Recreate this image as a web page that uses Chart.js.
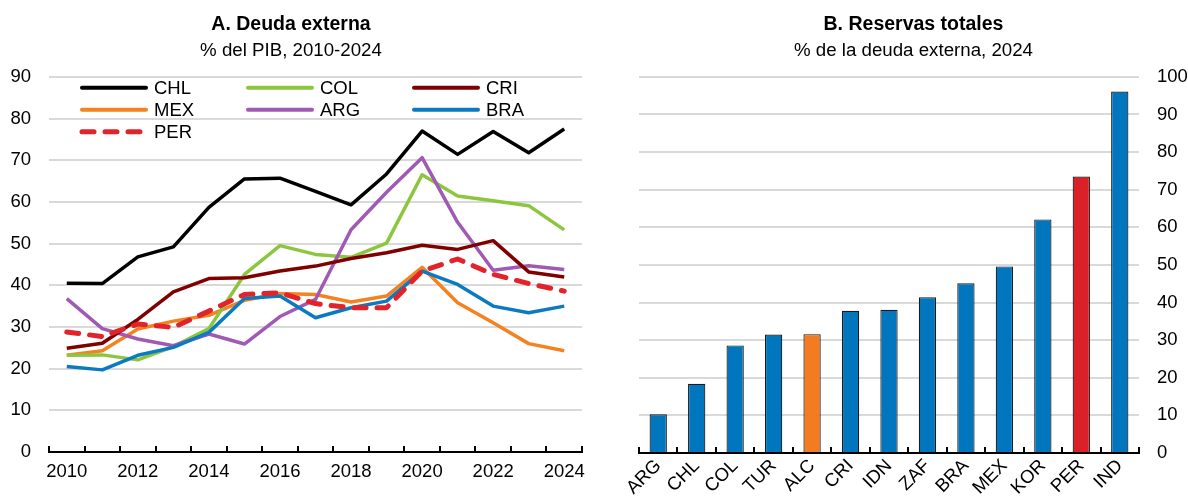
<!DOCTYPE html>
<html>
<head>
<meta charset="utf-8">
<script src="https://cdn.jsdelivr.net/npm/chart.js@4"></script>
<style>
  html, body { margin: 0; padding: 0; background: #fff; }
  body { width: 1188px; height: 498px; position: relative; overflow: hidden; }
  .box { position: absolute; top: 0; height: 498px; }
  #boxA { left: 0; width: 628px; }
  #boxB { left: 598px; width: 590px; }
</style>
</head>
<body>
<div class="box" id="boxA"><canvas id="chartA"></canvas></div>
<div class="box" id="boxB"><canvas id="chartB"></canvas></div>
<script>
// 패널 A: 대외부채 (% del PIB)
const years = ["2010","2011","2012","2013","2014","2015","2016","2017","2018","2019","2020","2021","2022","2023","2024"];
const chl = [40.5, 40.4, 46.8, 49.2, 58.7, 65.5, 65.7, 62.5, 59.3, 66.7, 77.0, 71.4, 76.9, 71.8, 77.5];
const col = [23.2, 23.3, 22.1, 25.3, 29.6, 42.6, 49.5, 47.4, 46.7, 50.1, 66.5, 61.4, 60.3, 59.1, 53.3];
const cri = [24.9, 26.1, 31.8, 38.4, 41.6, 41.8, 43.4, 44.6, 46.4, 47.8, 49.6, 48.6, 50.7, 43.2, 42.0];
const mex = [23.2, 24.3, 29.5, 31.4, 32.8, 36.4, 38.0, 37.8, 36.0, 37.4, 44.3, 35.8, 31.0, 26.0, 24.3];
const arg = [36.8, 29.6, 27.1, 25.5, 28.3, 25.9, 32.5, 36.6, 53.3, 62.3, 70.6, 55.1, 43.6, 44.7, 43.8];
const bra = [20.5, 19.7, 23.2, 25.1, 28.7, 36.8, 37.4, 32.2, 34.6, 36.2, 43.4, 40.2, 35.0, 33.4, 35.0];
const per = [28.8, 27.7, 30.7, 29.9, 33.8, 37.8, 38.2, 35.6, 34.6, 34.6, 43.4, 46.3, 42.6, 40.4, 38.6];

// 패널 B: 총 외환보유액 (% de la deuda externa)
const countries = ["ARG","CHL","COL","TUR","ALC","CRI","IDN","ZAF","BRA","MEX","KOR","PER","IND"];
const reserves = [10.3, 18.4, 28.6, 31.5, 31.6, 37.8, 38.1, 41.4, 45.1, 49.6, 62.1, 73.5, 96.1];

const SANS = "'Liberation Sans', Arial, sans-serif";
const TICK = 18.5;
const GRID = "#d9d9d9";

Chart.defaults.color = "#000";
Chart.defaults.font.family = SANS;
Chart.defaults.animation = false;

// 범례를 3열 격자로 그리는 플러그인
const gridLegend = {
  id: "gridLegend",
  afterDraw(chart) {
    const { ctx, chartArea } = chart;
    ctx.save();
    ctx.font = TICK + "px " + SANS;
    ctx.textBaseline = "middle";
    ctx.fillStyle = "#000";
    chart.data.datasets.forEach((ds, i) => {
      const colIdx = i % 3, rowIdx = Math.floor(i / 3);
      const x = chartArea.left + 31 + colIdx * 166;
      const y = chartArea.top + 11 + rowIdx * 22;
      ctx.beginPath();
      ctx.strokeStyle = ds.borderColor;
      ctx.lineWidth = ds.borderDash ? 5 : 4;
      ctx.lineCap = "round";
      ctx.setLineDash(ds.borderDash || []);
      ctx.moveTo(x + 2, y);
      ctx.lineTo(x + 66, y);
      ctx.stroke();
      ctx.setLineDash([]);
      ctx.fillText(ds.label, x + 74, y + 1);
    });
    ctx.restore();
  }
};

const line = (label, data, color, order, extra) => Object.assign({
  label, data, borderColor: color, backgroundColor: color,
  borderWidth: 3.5, pointRadius: 0, tension: 0, order,
  borderJoinStyle: "round"
}, extra || {});

new Chart(document.getElementById("chartA"), {
  type: "line",
  data: {
    labels: years,
    datasets: [
      line("CHL", chl, "#000000", 2),
      line("COL", col, "#8cc63f", 6),
      line("CRI", cri, "#800000", 3),
      line("MEX", mex, "#f58220", 7),
      line("ARG", arg, "#a05ab4", 5),
      line("BRA", bra, "#0b7bc1", 4),
      line("PER", per, "#e1242a", 1, { borderDash: [12, 11], borderWidth: 5, borderCapStyle: "round" })
    ]
  },
  options: {
    responsive: true,
    maintainAspectRatio: false,
    layout: { padding: { left: 0, right: 46, top: 0, bottom: 0 } },
    plugins: {
      legend: { display: false },
      tooltip: { enabled: false },
      title: {
        display: true, text: "A. Deuda externa",
        font: { family: SANS, size: 19.5, weight: "bold" },
        padding: { top: 13, bottom: 3 }
      },
      subtitle: {
        display: true, text: "% del PIB, 2010-2024",
        font: { family: SANS, size: 18.7 }, color: "#000",
        padding: { top: 0, bottom: 15 }
      }
    },
    scales: {
      x: {
        offset: true,
        grid: { offset: true, drawOnChartArea: false, color: "#000", lineWidth: 2, tickLength: -6 },
        border: { color: "#000", width: 2 },
        ticks: {
          autoSkip: false, maxRotation: 0, padding: 15,
          font: { size: TICK },
          callback(value, index) { return index % 2 === 0 ? this.getLabelForValue(value) : ""; }
        },
        afterFit(scale) { scale.height = 46; }
      },
      y: {
        min: 0, max: 90,
        grid: { color: GRID, lineWidth: 2, drawTicks: false },
        border: { display: false },
        ticks: { stepSize: 10, padding: 18, font: { size: TICK } },
        afterFit(scale) { scale.width = 49; }
      }
    }
  },
  plugins: [gridLegend]
});

const barColors = countries.map(c => c === "PER" ? "#da2128" : (c === "ALC" ? "#f47c20" : "#0076be"));

new Chart(document.getElementById("chartB"), {
  type: "bar",
  data: {
    labels: countries,
    datasets: [{
      data: reserves,
      backgroundColor: barColors,
      borderColor: "#1a1a1a",
      borderWidth: 1.2,
      categoryPercentage: 1,
      barPercentage: 0.45
    }]
  },
  options: {
    responsive: true,
    maintainAspectRatio: false,
    layout: { padding: { left: 41, right: 0, top: 0, bottom: 0 } },
    plugins: {
      legend: { display: false },
      tooltip: { enabled: false },
      title: {
        display: true, text: "B. Reservas totales",
        font: { family: SANS, size: 19.5, weight: "bold" },
        padding: { top: 13, bottom: 3 }
      },
      subtitle: {
        display: true, text: "% de la deuda externa, 2024",
        font: { family: SANS, size: 18.7 }, color: "#000",
        padding: { top: 0, bottom: 15 }
      }
    },
    scales: {
      x: {
        grid: { offset: true, drawOnChartArea: false, color: "#000", lineWidth: 2, tickLength: -6 },
        border: { color: "#000", width: 2 },
        ticks: { autoSkip: false, minRotation: 45, maxRotation: 45, padding: 8, font: { size: TICK } },
        afterFit(scale) { scale.height = 45; }
      },
      y: {
        position: "right",
        min: 0, max: 100,
        grid: { color: GRID, lineWidth: 2, drawTicks: false },
        border: { display: false },
        ticks: { stepSize: 10, padding: 18, font: { size: TICK } },
        afterFit(scale) { scale.width = 49; }
      }
    }
  }
});
</script>
</body>
</html>
